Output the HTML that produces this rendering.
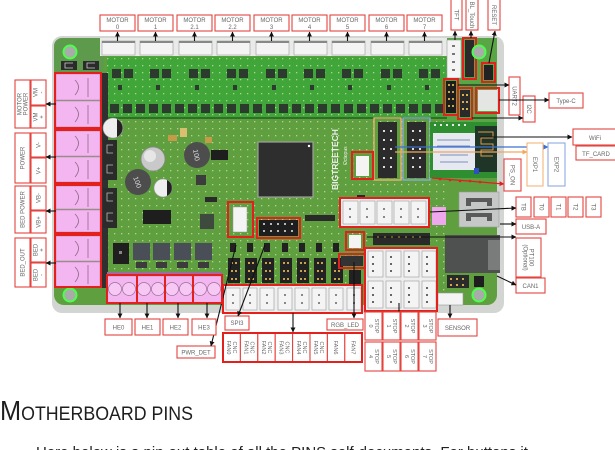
<!DOCTYPE html>
<html><head><meta charset="utf-8"><style>
html,body{margin:0;padding:0;background:#fff;}
svg{display:block;}
.t{font-family:"Liberation Sans",sans-serif;font-size:6px;fill:#666;}
.lb{fill:#fff;stroke:#e4433f;stroke-width:1.1;}
.rb{fill:none;stroke:#e3201c;stroke-width:2;}
.ln{stroke:#111;stroke-width:1.1;fill:none;}
.cn{fill:#f4f4f4;stroke:#9a9a9a;stroke-width:.6;}
.pk{fill:#f4b6f0;stroke:#b489b0;stroke-width:.6;}
</style></head><body>
<svg width="615" height="450" viewBox="0 0 615 450" xmlns="http://www.w3.org/2000/svg">
<defs>
<marker id="k" viewBox="0 0 6 6" refX="5.5" refY="3" markerWidth="5" markerHeight="5" orient="auto" markerUnits="userSpaceOnUse"><path d="M0,0L6,3L0,6z" fill="#111"/></marker>
<marker id="kb" viewBox="0 0 6 6" refX="5.5" refY="3" markerWidth="5" markerHeight="5" orient="auto" markerUnits="userSpaceOnUse"><path d="M0,0L6,3L0,6z" fill="#3d6fcf"/></marker>
<marker id="ko" viewBox="0 0 6 6" refX="5.5" refY="3" markerWidth="5" markerHeight="5" orient="auto" markerUnits="userSpaceOnUse"><path d="M0,0L6,3L0,6z" fill="#f0a860"/></marker>
<marker id="kr" viewBox="0 0 6 6" refX="5.5" refY="3" markerWidth="5" markerHeight="5" orient="auto" markerUnits="userSpaceOnUse"><path d="M0,0L6,3L0,6z" fill="#e02020"/></marker>
<pattern id="dots" width="7" height="7" patternUnits="userSpaceOnUse"><rect x="2" y="2" width="1.3" height="1.3" fill="#d9e9b0" opacity=".7"/></pattern>
</defs>

<!-- backdrop and board -->
<rect x="52" y="36" width="452" height="277" rx="10" fill="#d2d5d2"/>
<rect x="54" y="38" width="443" height="267" rx="10" fill="#5f9f3f"/>
<rect x="54" y="38" width="50" height="36" rx="8" fill="#5d9a4c"/>
<rect x="100" y="38" width="347" height="18" fill="#e9ebe9"/>
<!-- driver area -->
<rect x="107" y="57" width="340" height="61" fill="#40a63a"/>
<rect x="107" y="57" width="340" height="61" fill="url(#dots)"/>
<rect x="107" y="117" width="340" height="2" fill="#2f6f28"/>
<g fill="#2d3a2e">
<rect x="112" y="69" width="9" height="9"/><rect x="124" y="69" width="9" height="9"/>
<rect x="150" y="69" width="9" height="9"/><rect x="162" y="69" width="9" height="9"/>
<rect x="189" y="69" width="9" height="9"/><rect x="201" y="69" width="9" height="9"/>
<rect x="227" y="69" width="9" height="9"/><rect x="239" y="69" width="9" height="9"/>
<rect x="266" y="69" width="9" height="9"/><rect x="278" y="69" width="9" height="9"/>
<rect x="304" y="69" width="9" height="9"/><rect x="316" y="69" width="9" height="9"/>
<rect x="342" y="69" width="9" height="9"/><rect x="354" y="69" width="9" height="9"/>
<rect x="381" y="69" width="9" height="9"/><rect x="393" y="69" width="9" height="9"/>
<rect x="419" y="69" width="9" height="9"/><rect x="431" y="69" width="9" height="9"/>
<rect x="110" y="104" width="9" height="9"/><rect x="123" y="104" width="9" height="9"/><rect x="136" y="104" width="9" height="9"/><rect x="149" y="104" width="9" height="9"/><rect x="162" y="104" width="9" height="9"/><rect x="175" y="104" width="9" height="9"/><rect x="188" y="104" width="9" height="9"/><rect x="201" y="104" width="9" height="9"/><rect x="214" y="104" width="9" height="9"/><rect x="227" y="104" width="9" height="9"/><rect x="240" y="104" width="9" height="9"/><rect x="253" y="104" width="9" height="9"/><rect x="266" y="104" width="9" height="9"/><rect x="279" y="104" width="9" height="9"/><rect x="292" y="104" width="9" height="9"/><rect x="305" y="104" width="9" height="9"/><rect x="318" y="104" width="9" height="9"/><rect x="331" y="104" width="9" height="9"/><rect x="344" y="104" width="9" height="9"/><rect x="357" y="104" width="9" height="9"/><rect x="370" y="104" width="9" height="9"/><rect x="383" y="104" width="9" height="9"/><rect x="396" y="104" width="9" height="9"/><rect x="409" y="104" width="9" height="9"/><rect x="422" y="104" width="9" height="9"/><rect x="435" y="104" width="9" height="9"/>
<rect x="118" y="85" width="4" height="5"/><rect x="156" y="85" width="4" height="5"/><rect x="195" y="85" width="4" height="5"/><rect x="233" y="85" width="4" height="5"/><rect x="272" y="85" width="4" height="5"/><rect x="310" y="85" width="4" height="5"/><rect x="348" y="85" width="4" height="5"/><rect x="387" y="85" width="4" height="5"/><rect x="425" y="85" width="4" height="5"/>
</g>
<rect x="107" y="119" width="340" height="185" fill="url(#dots)"/>

<!-- motor connectors -->
<g>
<rect class="cn" x="102" y="41" width="33" height="14"/><rect class="cn" x="140" y="41" width="33" height="14"/><rect class="cn" x="179" y="41" width="33" height="14"/><rect class="cn" x="217" y="41" width="33" height="14"/><rect class="cn" x="256" y="41" width="33" height="14"/><rect class="cn" x="294" y="41" width="33" height="14"/><rect class="cn" x="332" y="41" width="33" height="14"/><rect class="cn" x="371" y="41" width="33" height="14"/><rect class="cn" x="409" y="41" width="33" height="14"/>
</g>
<g fill="#888">
<rect x="102" y="41" width="33" height="2"/><rect x="140" y="41" width="33" height="2"/><rect x="179" y="41" width="33" height="2"/><rect x="217" y="41" width="33" height="2"/><rect x="256" y="41" width="33" height="2"/><rect x="294" y="41" width="33" height="2"/><rect x="332" y="41" width="33" height="2"/><rect x="371" y="41" width="33" height="2"/><rect x="409" y="41" width="33" height="2"/>
</g>

<!-- motor labels -->
<g>
<rect class="lb" x="100" y="15" width="35" height="16"/><rect class="lb" x="138" y="15" width="35" height="16"/><rect class="lb" x="177" y="15" width="35" height="16"/><rect class="lb" x="215" y="15" width="35" height="16"/><rect class="lb" x="254" y="15" width="35" height="16"/><rect class="lb" x="292" y="15" width="35" height="16"/><rect class="lb" x="330" y="15" width="35" height="16"/><rect class="lb" x="369" y="15" width="35" height="16"/><rect class="lb" x="407" y="15" width="35" height="16"/>
</g>
<g class="t" text-anchor="middle">
<text x="117.5" y="22">MOTOR</text><text x="117.5" y="29">0</text>
<text x="155.5" y="22">MOTOR</text><text x="155.5" y="29">1</text>
<text x="194.5" y="22">MOTOR</text><text x="194.5" y="29">2.1</text>
<text x="232.5" y="22">MOTOR</text><text x="232.5" y="29">2.2</text>
<text x="271.5" y="22">MOTOR</text><text x="271.5" y="29">3</text>
<text x="309.5" y="22">MOTOR</text><text x="309.5" y="29">4</text>
<text x="347.5" y="22">MOTOR</text><text x="347.5" y="29">5</text>
<text x="386.5" y="22">MOTOR</text><text x="386.5" y="29">6</text>
<text x="424.5" y="22">MOTOR</text><text x="424.5" y="29">7</text>
</g>
<g class="ln" marker-end="url(#k)">
<line x1="117.5" y1="41" x2="117.5" y2="32"/><line x1="155.5" y1="41" x2="155.5" y2="32"/><line x1="194.5" y1="41" x2="194.5" y2="32"/><line x1="232.5" y1="41" x2="232.5" y2="32"/><line x1="271.5" y1="41" x2="271.5" y2="32"/><line x1="309.5" y1="41" x2="309.5" y2="32"/><line x1="347.5" y1="41" x2="347.5" y2="32"/><line x1="386.5" y1="41" x2="386.5" y2="32"/><line x1="424.5" y1="41" x2="424.5" y2="32"/>
</g>

<!-- top right area -->
<rect x="447" y="38" width="50" height="90" fill="#5aa545"/>
<rect class="cn" x="447" y="40" width="14" height="38"/>
<g fill="#777"><rect x="452" y="45" width="3" height="2"/><rect x="452" y="53" width="3" height="2"/><rect x="452" y="61" width="3" height="2"/><rect x="452" y="69" width="3" height="2"/></g>
<rect x="465" y="40" width="9" height="37" fill="#2a2a2a"/>
<rect class="rb" x="463" y="38" width="13" height="41"/>
<circle cx="479" cy="52" r="6.5" fill="#aaa" stroke="#4dff4d" stroke-width="2"/>
<rect x="484" y="65" width="9" height="15" fill="#222"/>
<rect class="rb" x="482" y="63" width="13" height="19"/>
<rect x="446" y="81" width="10" height="32" fill="#1d1d1d"/>
<g fill="#c9a54a"><rect x="448" y="84" width="2" height="2"/><rect x="452" y="84" width="2" height="2"/><rect x="448" y="91" width="2" height="2"/><rect x="452" y="91" width="2" height="2"/><rect x="448" y="98" width="2" height="2"/><rect x="452" y="98" width="2" height="2"/><rect x="448" y="105" width="2" height="2"/><rect x="452" y="105" width="2" height="2"/></g>
<rect class="rb" x="444" y="79" width="14" height="36"/>
<rect x="460" y="90" width="10" height="27" fill="#2a2a2a"/>
<g fill="#d8b050"><rect x="462" y="94" width="2" height="2"/><rect x="466" y="94" width="2" height="2"/><rect x="462" y="101" width="2" height="2"/><rect x="466" y="101" width="2" height="2"/><rect x="462" y="108" width="2" height="2"/><rect x="466" y="108" width="2" height="2"/></g>
<rect class="rb" x="458" y="88" width="14" height="31"/>
<rect x="478" y="90" width="19" height="21" fill="#e4e6e4"/>
<rect class="rb" x="476" y="88" width="23" height="25"/>

<rect class="lb" x="451" y="-2" width="11" height="32"/>
<text class="t" transform="translate(456.5,15) rotate(90)" text-anchor="middle" dy="2">TFT</text>
<rect class="lb" x="466" y="-2" width="12" height="32"/>
<text class="t" transform="translate(472,15) rotate(90)" text-anchor="middle" dy="2">BL_Touch</text>
<rect class="lb" x="488" y="-2" width="12" height="32"/>
<text class="t" transform="translate(494,15) rotate(90)" text-anchor="middle" dy="2">RESET</text>
<g class="ln" marker-end="url(#k)">
<line x1="455" y1="40" x2="455" y2="31"/><line x1="471" y1="38" x2="471" y2="31"/><line x1="489" y1="63" x2="495" y2="31"/>
</g>

<rect class="lb" x="509" y="77" width="11" height="38"/>
<text class="t" transform="translate(514.5,96) rotate(90)" text-anchor="middle" dy="2">UART2</text>
<rect class="lb" x="523" y="96" width="12" height="26"/>
<text class="t" transform="translate(529,109) rotate(90)" text-anchor="middle" dy="2">I2C</text>
<rect class="lb" x="549" y="93" width="34" height="15"/>
<text class="t" x="566" y="103" text-anchor="middle">Type-C</text>
<g class="ln" marker-end="url(#k)">
<line x1="458" y1="85" x2="509" y2="85"/><line x1="472" y1="118" x2="523" y2="118"/><line x1="499" y1="100" x2="549" y2="100"/>
</g>

<!-- EXP & WiFi -->
<rect x="374" y="118" width="27" height="62" fill="none" stroke="#f1b47a" stroke-width="1.3"/>
<rect x="403" y="118" width="27" height="62" fill="none" stroke="#8eaae0" stroke-width="1.3"/>
<rect x="378" y="122" width="19" height="56" fill="#2b2b2b"/>
<rect x="407" y="122" width="19" height="56" fill="#2b2b2b"/>
<g fill="#ddd">
<rect x="383" y="130" width="2" height="2"/><rect x="390" y="130" width="2" height="2"/><rect x="383" y="139" width="2" height="2"/><rect x="390" y="139" width="2" height="2"/><rect x="383" y="148" width="2" height="2"/><rect x="390" y="148" width="2" height="2"/><rect x="383" y="157" width="2" height="2"/><rect x="390" y="157" width="2" height="2"/><rect x="383" y="166" width="2" height="2"/><rect x="390" y="166" width="2" height="2"/>
<rect x="412" y="130" width="2" height="2"/><rect x="419" y="130" width="2" height="2"/><rect x="412" y="139" width="2" height="2"/><rect x="419" y="139" width="2" height="2"/><rect x="412" y="148" width="2" height="2"/><rect x="419" y="148" width="2" height="2"/><rect x="412" y="157" width="2" height="2"/><rect x="419" y="157" width="2" height="2"/><rect x="412" y="166" width="2" height="2"/><rect x="419" y="166" width="2" height="2"/>
</g>
<rect x="430" y="122" width="67" height="56" fill="#2f8f30"/>
<rect x="433" y="133" width="42" height="37" fill="#e6eaf0"/>
<g stroke="#5a6fb0" stroke-width=".7"><line x1="437" y1="140" x2="470" y2="140"/><line x1="437" y1="146" x2="470" y2="146"/><line x1="440" y1="155" x2="468" y2="155"/><line x1="440" y1="162" x2="468" y2="162"/></g>
<rect x="475" y="126" width="22" height="46" fill="#1f3527"/>
<path d="M478,132h15v6h-12v6h12v6h-12v6h12" fill="none" stroke="#d89a50" stroke-width="1"/>
<rect x="474" y="168" width="5" height="6" fill="#2d50c0"/>
<g fill="#e8e8e8"><rect x="434" y="124" width="2" height="2"/><rect x="440" y="124" width="2" height="2"/><rect x="446" y="124" width="2" height="2"/><rect x="452" y="124" width="2" height="2"/><rect x="458" y="124" width="2" height="2"/><rect x="464" y="124" width="2" height="2"/></g>

<line x1="480" y1="137" x2="572" y2="137" class="ln" marker-end="url(#k)"/>
<line x1="395" y1="147" x2="548" y2="147" stroke="#3d6fcf" stroke-width="1.2" marker-end="url(#kb)"/>
<line x1="395" y1="152" x2="527" y2="152" stroke="#f0a860" stroke-width="1.2" marker-end="url(#ko)"/>
<line x1="432" y1="178" x2="504" y2="184" stroke="#e02020" stroke-width="1.2" marker-end="url(#kr)"/>
<g fill="#e02020"><circle cx="440" cy="179" r="1.3"/><circle cx="450" cy="180" r="1.3"/><circle cx="460" cy="181" r="1.3"/><circle cx="470" cy="181" r="1.3"/><circle cx="480" cy="182" r="1.3"/></g>

<rect class="lb" x="573" y="129" width="44" height="16"/>
<text class="t" x="595" y="140" text-anchor="middle">WiFi</text>
<rect class="lb" x="576" y="146" width="41" height="14"/>
<text class="t" x="596" y="156" text-anchor="middle">TF_CARD</text>
<rect x="527" y="143" width="16" height="43" fill="#fff" stroke="#f1b47a" stroke-width="1.1"/>
<text class="t" transform="translate(535,164.5) rotate(90)" text-anchor="middle" dy="2">EXP1</text>
<rect x="548" y="143" width="17" height="43" fill="#fff" stroke="#8eaae0" stroke-width="1.1"/>
<text class="t" transform="translate(556.5,164.5) rotate(90)" text-anchor="middle" dy="2">EXP2</text>
<rect class="lb" x="504" y="159" width="17" height="32"/>
<text class="t" transform="translate(512.5,175) rotate(90)" text-anchor="middle" dy="2">PS_ON</text>

<!-- left top holes / shapes -->
<circle cx="70" cy="52" r="6.5" fill="#aaa" stroke="#4dff4d" stroke-width="2"/>
<circle cx="70" cy="295" r="6.5" fill="#aaa" stroke="#4dff4d" stroke-width="2"/>
<circle cx="479" cy="295" r="6.5" fill="#aaa" stroke="#4dff4d" stroke-width="2"/>
<rect x="61" y="61" width="16" height="9" fill="#2b2b2b"/><rect x="83" y="61" width="16" height="9" fill="#2b2b2b"/>
<path d="M73,63h-8v5h8M95,63h-8v5h8" fill="none" stroke="#ccc" stroke-width=".8"/>

<!-- left terminals -->
<rect x="100" y="73" width="8" height="215" fill="#303030"/>
<g>
<rect class="pk" x="56" y="74" width="44" height="26"/><rect class="pk" x="56" y="101" width="44" height="26"/>
<rect class="pk" x="56" y="131" width="44" height="25"/><rect class="pk" x="56" y="157" width="44" height="25"/>
<rect class="pk" x="56" y="186" width="44" height="23"/><rect class="pk" x="56" y="210" width="44" height="22"/>
<rect class="pk" x="56" y="236" width="44" height="25"/><rect class="pk" x="56" y="262" width="44" height="25"/>
</g>
<g fill="none" stroke="#8a6a88" stroke-width=".8">
<path d="M75,80q7,7 0,15M88,78v19"/><path d="M75,107q7,7 0,15M88,105v19"/>
<path d="M75,136q7,7 0,15M88,134v19"/><path d="M75,162q7,7 0,15M88,160v19"/>
<path d="M75,190q7,7 0,15M88,188v19"/><path d="M75,214q7,7 0,14M88,212v18"/>
<path d="M75,241q7,7 0,15M88,239v19"/><path d="M75,267q7,7 0,15M88,265v19"/>
</g>
<rect class="rb" x="55" y="73" width="46" height="55"/>
<rect class="rb" x="55" y="130" width="46" height="53"/>
<rect class="rb" x="55" y="185" width="46" height="48"/>
<rect class="rb" x="55" y="235" width="46" height="52"/>

<!-- left labels -->
<rect class="lb" x="15" y="80" width="15" height="48"/>
<text class="t" transform="translate(22.5,104) rotate(-90)" text-anchor="middle"><tspan x="0" y="-1">MOTOR</tspan><tspan x="0" y="5">POWER</tspan></text>
<rect class="lb" x="31" y="80" width="15" height="25"/>
<text class="t" transform="translate(38.5,92.5) rotate(-90)" text-anchor="middle"><tspan x="0" y="-1">VM</tspan><tspan x="0" y="5">-</tspan></text>
<rect class="lb" x="31" y="106" width="15" height="22"/>
<text class="t" transform="translate(38.5,117) rotate(-90)" text-anchor="middle"><tspan x="0" y="-1">VM</tspan><tspan x="0" y="5">+</tspan></text>

<rect class="lb" x="15" y="133" width="15" height="50"/>
<text class="t" transform="translate(22.5,158) rotate(-90)" text-anchor="middle" dy="2">POWER</text>
<rect class="lb" x="31" y="133" width="15" height="24"/>
<text class="t" transform="translate(38.5,145) rotate(-90)" text-anchor="middle" dy="2">V-</text>
<rect class="lb" x="31" y="158" width="15" height="25"/>
<text class="t" transform="translate(38.5,170.5) rotate(-90)" text-anchor="middle" dy="2">V+</text>

<rect class="lb" x="15" y="186" width="15" height="47"/>
<text class="t" transform="translate(22.5,209.5) rotate(-90)" text-anchor="middle" dy="2">BED POWER</text>
<rect class="lb" x="31" y="186" width="15" height="24"/>
<text class="t" transform="translate(38.5,198) rotate(-90)" text-anchor="middle" dy="2">VB-</text>
<rect class="lb" x="31" y="211" width="15" height="22"/>
<text class="t" transform="translate(38.5,222) rotate(-90)" text-anchor="middle" dy="2">VB+</text>

<rect class="lb" x="15" y="238" width="15" height="49"/>
<text class="t" transform="translate(22.5,262.5) rotate(-90)" text-anchor="middle" dy="2">BED_OUT</text>
<rect class="lb" x="31" y="238" width="15" height="24"/>
<text class="t" transform="translate(38.5,250) rotate(-90)" text-anchor="middle"><tspan x="0" y="-1">BED</tspan><tspan x="0" y="5">+</tspan></text>
<rect class="lb" x="31" y="263" width="15" height="24"/>
<text class="t" transform="translate(38.5,275) rotate(-90)" text-anchor="middle"><tspan x="0" y="-1">BED</tspan><tspan x="0" y="5">-</tspan></text>
<g class="ln" marker-end="url(#k)">
<line x1="56" y1="104" x2="46" y2="104"/><line x1="56" y1="157" x2="46" y2="157"/><line x1="56" y1="211" x2="46" y2="211"/><line x1="56" y1="263" x2="46" y2="263"/>
</g>

<!-- black side connectors -->
<rect x="103" y="140" width="14" height="40" fill="#2b2b2b"/>
<rect x="103" y="188" width="14" height="40" fill="#2b2b2b"/>
<path d="M113,145h-6v8h6M113,165h-6v8h6M113,193h-6v8h6M113,213h-6v8h6" fill="none" stroke="#bbb" stroke-width=".8"/>

<!-- components -->
<circle cx="113" cy="128" r="10" fill="#eee" stroke="#999" stroke-width=".6"/>
<path d="M117,119a10,10 0 0 1 0,18z" fill="#222"/>
<circle cx="163" cy="188" r="9" fill="#eee" stroke="#999" stroke-width=".6"/>
<path d="M167,180a9,9 0 0 1 0,16z" fill="#222"/>
<circle cx="153" cy="159" r="12" fill="#c9c9c9" stroke="#888" stroke-width=".8"/>
<circle cx="150" cy="156" r="6" fill="#e6e6e6"/>
<circle cx="138" cy="182" r="13" fill="#4d4d4d"/>
<text x="138" y="185" font-family="Liberation Sans,sans-serif" font-size="7" fill="#ddd" text-anchor="middle" transform="rotate(70,138,182)">100</text>
<circle cx="197" cy="155" r="13" fill="#4d4d4d"/>
<text x="197" y="158" font-family="Liberation Sans,sans-serif" font-size="7" fill="#ddd" text-anchor="middle" transform="rotate(80,197,155)">100</text>
<rect x="143" y="210" width="28" height="14" fill="#1e1e1e"/>
<rect x="211" y="150" width="17" height="10" fill="#1e1e1e"/>
<rect x="196" y="175" width="10" height="10" fill="#3c3c3c"/>
<rect x="200" y="214" width="14" height="15" fill="#3e4a3e"/>
<rect x="180" y="128" width="7" height="9" fill="#d8c070"/>
<rect x="168" y="135" width="9" height="6" fill="#c59a48"/>
<rect x="205" y="137" width="7" height="6" fill="#c59a48"/>
<rect x="205" y="197" width="12" height="5" fill="#2a2a2a"/>
<rect x="113" y="243" width="16" height="21" fill="#1f1f1f"/>
<rect x="119" y="251" width="3" height="3" fill="#888"/>
<rect x="133" y="243" width="17" height="17" fill="#4a4f57"/>
<rect x="153" y="243" width="17" height="17" fill="#4a4f57"/>
<rect x="174" y="243" width="17" height="17" fill="#4a4f57"/>
<rect x="195" y="243" width="17" height="17" fill="#4a4f57"/>
<g fill="#3c3c3c"><rect x="136" y="262" width="11" height="6"/><rect x="156" y="262" width="11" height="6"/><rect x="177" y="262" width="11" height="6"/><rect x="198" y="262" width="11" height="6"/></g>

<!-- MCU -->
<rect x="258" y="142" width="55" height="55" fill="#2e2e2e" stroke="#a0a0a0" stroke-width="1.2"/>
<circle cx="309" cy="146" r="1.2" fill="#fff"/>
<text transform="translate(338,190) rotate(-90)" font-family="Liberation Sans,sans-serif" font-size="8.5" font-weight="bold" fill="#f0f0f0">BIGTREETECH</text>
<text transform="translate(347,165) rotate(-90)" font-family="Liberation Sans,sans-serif" font-size="5" fill="#e8e8e8">Octopus</text>
<rect x="305" y="215" width="30" height="6" fill="#2a2a2a"/>
<rect x="357" y="195" width="8" height="14" fill="#2a2a2a"/>

<!-- PWR_DET & SPI3 -->
<rect x="233" y="207" width="14" height="25" fill="#f4f4f4" stroke="#999" stroke-width=".5"/>
<rect class="rb" x="228" y="202" width="25" height="35"/>
<rect x="259" y="220" width="39" height="16" fill="#1e1e1e"/>
<g fill="#b8b8b8"><rect x="263" y="223" width="2" height="2"/><rect x="270" y="223" width="2" height="2"/><rect x="277" y="223" width="2" height="2"/><rect x="284" y="223" width="2" height="2"/><rect x="291" y="223" width="2" height="2"/><rect x="263" y="230" width="2" height="2"/><rect x="270" y="230" width="2" height="2"/><rect x="277" y="230" width="2" height="2"/><rect x="284" y="230" width="2" height="2"/><rect x="291" y="230" width="2" height="2"/></g>
<rect class="rb" x="257" y="218" width="43" height="20"/>

<!-- small red box near MCU -->
<rect x="356" y="156" width="13" height="20" fill="#f4f4f4"/>
<rect class="rb" x="352" y="152" width="21" height="27"/>

<!-- fan area headers -->
<g fill="#222">
<rect x="230" y="243" width="6" height="9"/><rect x="247" y="243" width="6" height="9"/><rect x="264" y="243" width="6" height="9"/><rect x="282" y="243" width="6" height="9"/><rect x="299" y="243" width="6" height="9"/><rect x="316" y="243" width="6" height="9"/><rect x="333" y="243" width="6" height="9"/>
<rect x="228" y="258" width="12" height="25"/><rect x="245" y="258" width="12" height="25"/><rect x="262" y="258" width="12" height="25"/><rect x="280" y="258" width="12" height="25"/><rect x="297" y="258" width="12" height="25"/><rect x="314" y="258" width="12" height="25"/><rect x="331" y="258" width="12" height="25"/><rect x="349" y="270" width="12" height="14"/>
</g>
<g fill="#c9a54a">
<rect x="231" y="262" width="2" height="2"/><rect x="235" y="262" width="2" height="2"/><rect x="231" y="270" width="2" height="2"/><rect x="235" y="270" width="2" height="2"/><rect x="231" y="278" width="2" height="2"/><rect x="235" y="278" width="2" height="2"/>
<rect x="248" y="262" width="2" height="2"/><rect x="252" y="262" width="2" height="2"/><rect x="248" y="270" width="2" height="2"/><rect x="252" y="270" width="2" height="2"/><rect x="248" y="278" width="2" height="2"/><rect x="252" y="278" width="2" height="2"/>
<rect x="265" y="262" width="2" height="2"/><rect x="269" y="262" width="2" height="2"/><rect x="265" y="270" width="2" height="2"/><rect x="269" y="270" width="2" height="2"/><rect x="265" y="278" width="2" height="2"/><rect x="269" y="278" width="2" height="2"/>
<rect x="283" y="262" width="2" height="2"/><rect x="287" y="262" width="2" height="2"/><rect x="283" y="270" width="2" height="2"/><rect x="287" y="270" width="2" height="2"/><rect x="283" y="278" width="2" height="2"/><rect x="287" y="278" width="2" height="2"/>
<rect x="300" y="262" width="2" height="2"/><rect x="304" y="262" width="2" height="2"/><rect x="300" y="270" width="2" height="2"/><rect x="304" y="270" width="2" height="2"/><rect x="300" y="278" width="2" height="2"/><rect x="304" y="278" width="2" height="2"/>
<rect x="317" y="262" width="2" height="2"/><rect x="321" y="262" width="2" height="2"/><rect x="317" y="270" width="2" height="2"/><rect x="321" y="270" width="2" height="2"/><rect x="317" y="278" width="2" height="2"/><rect x="321" y="278" width="2" height="2"/>
<rect x="334" y="262" width="2" height="2"/><rect x="338" y="262" width="2" height="2"/><rect x="334" y="270" width="2" height="2"/><rect x="338" y="270" width="2" height="2"/><rect x="334" y="278" width="2" height="2"/><rect x="338" y="278" width="2" height="2"/>
</g>

<!-- fan connectors -->
<rect x="223" y="285" width="139" height="28" fill="#eee"/>
<g>
<rect class="cn" x="226" y="288" width="14" height="22"/><rect class="cn" x="243" y="288" width="14" height="22"/><rect class="cn" x="260" y="288" width="14" height="22"/><rect class="cn" x="278" y="288" width="14" height="22"/><rect class="cn" x="295" y="288" width="14" height="22"/><rect class="cn" x="312" y="288" width="14" height="22"/><rect class="cn" x="329" y="288" width="14" height="22"/><rect class="cn" x="347" y="288" width="14" height="22"/>
</g>
<g fill="#888"><rect x="232" y="294" width="2" height="2"/><rect x="232" y="302" width="2" height="2"/><rect x="249" y="294" width="2" height="2"/><rect x="249" y="302" width="2" height="2"/><rect x="266" y="294" width="2" height="2"/><rect x="266" y="302" width="2" height="2"/><rect x="284" y="294" width="2" height="2"/><rect x="284" y="302" width="2" height="2"/><rect x="301" y="294" width="2" height="2"/><rect x="301" y="302" width="2" height="2"/><rect x="318" y="294" width="2" height="2"/><rect x="318" y="302" width="2" height="2"/><rect x="335" y="294" width="2" height="2"/><rect x="335" y="302" width="2" height="2"/><rect x="353" y="294" width="2" height="2"/><rect x="353" y="302" width="2" height="2"/></g>
<rect class="rb" x="223" y="285" width="139" height="28"/>

<!-- fan labels -->
<g>
<rect class="lb" x="223" y="333" width="17.4" height="29"/><rect class="lb" x="240.4" y="333" width="17.4" height="29"/><rect class="lb" x="257.8" y="333" width="17.4" height="29"/><rect class="lb" x="275.2" y="333" width="17.4" height="29"/><rect class="lb" x="292.6" y="333" width="17.4" height="29"/><rect class="lb" x="310" y="333" width="17.4" height="29"/><rect class="lb" x="327.4" y="333" width="17.4" height="29"/><rect class="lb" x="344.8" y="333" width="17.4" height="29"/>
</g>
<rect class="rb" x="223" y="333" width="139" height="29"/>
<g class="t" text-anchor="middle" style="font-size:5.5px">
<text transform="translate(231.7,347.5) rotate(90)"><tspan x="0" y="-1.5">CNC</tspan><tspan x="0" y="4.5">FAN0</tspan></text>
<text transform="translate(249.1,347.5) rotate(90)"><tspan x="0" y="-1.5">CNC</tspan><tspan x="0" y="4.5">FAN1</tspan></text>
<text transform="translate(266.5,347.5) rotate(90)"><tspan x="0" y="-1.5">CNC</tspan><tspan x="0" y="4.5">FAN2</tspan></text>
<text transform="translate(283.9,347.5) rotate(90)"><tspan x="0" y="-1.5">CNC</tspan><tspan x="0" y="4.5">FAN3</tspan></text>
<text transform="translate(301.3,347.5) rotate(90)"><tspan x="0" y="-1.5">CNC</tspan><tspan x="0" y="4.5">FAN4</tspan></text>
<text transform="translate(318.7,347.5) rotate(90)"><tspan x="0" y="-1.5">CNC</tspan><tspan x="0" y="4.5">FAN5</tspan></text>
<text transform="translate(336.1,347.5) rotate(90)" dy="2">FAN6</text>
<text transform="translate(353.5,347.5) rotate(90)" dy="2">FAN7</text>
</g>
<line class="ln" x1="293" y1="313" x2="293" y2="332" marker-end="url(#k)"/>

<rect class="lb" x="225" y="316" width="24" height="14"/>
<text class="t" x="237" y="325" text-anchor="middle">SPI3</text>
<rect class="lb" x="177" y="346" width="38" height="12"/>
<text class="t" x="196" y="354.5" text-anchor="middle">PWR_DET</text>
<g class="ln" marker-end="url(#k)">
<line x1="265" y1="245" x2="238" y2="316"/>
<line x1="236" y1="245" x2="211" y2="346"/>
</g>

<!-- heaters -->
<rect x="107" y="272" width="115" height="5" fill="#a06aa0"/>
<rect class="pk" x="107" y="276" width="115" height="27"/>
<g fill="#f6c8f3" stroke="#9a7098" stroke-width=".7">
<circle cx="115" cy="289" r="6.5"/><circle cx="129" cy="289" r="6.5"/>
<circle cx="144" cy="289" r="6.5"/><circle cx="158" cy="289" r="6.5"/>
<circle cx="172" cy="289" r="6.5"/><circle cx="186" cy="289" r="6.5"/>
<circle cx="200" cy="289" r="6.5"/><circle cx="214" cy="289" r="6.5"/>
</g>
<rect class="rb" x="107" y="275" width="30" height="28"/>
<rect class="rb" x="137" y="275" width="28" height="28"/>
<rect class="rb" x="165" y="275" width="28" height="28"/>
<rect class="rb" x="193" y="275" width="29" height="28"/>
<rect class="lb" x="105" y="319" width="27" height="16"/>
<text class="t" x="118.5" y="329.5" text-anchor="middle">HE0</text>
<rect class="lb" x="135" y="319" width="25" height="16"/>
<text class="t" x="147.5" y="329.5" text-anchor="middle">HE1</text>
<rect class="lb" x="163" y="319" width="25" height="16"/>
<text class="t" x="175.5" y="329.5" text-anchor="middle">HE2</text>
<rect class="lb" x="192" y="319" width="24" height="16"/>
<text class="t" x="204" y="329.5" text-anchor="middle">HE3</text>
<g class="ln" marker-end="url(#k)">
<line x1="120" y1="303" x2="120" y2="318"/><line x1="147" y1="303" x2="147" y2="318"/><line x1="178" y1="303" x2="178" y2="318"/><line x1="207" y1="303" x2="207" y2="318"/>
</g>

<!-- thermistors -->
<rect x="340" y="198" width="89" height="29" fill="#eee"/>
<g>
<rect class="cn" x="343" y="201" width="15" height="23"/><rect class="cn" x="360" y="201" width="15" height="23"/><rect class="cn" x="377" y="201" width="15" height="23"/><rect class="cn" x="394" y="201" width="15" height="23"/><rect class="cn" x="411" y="201" width="15" height="23"/>
</g>
<g fill="#888"><rect x="349" y="208" width="2" height="2"/><rect x="349" y="216" width="2" height="2"/><rect x="366" y="208" width="2" height="2"/><rect x="366" y="216" width="2" height="2"/><rect x="383" y="208" width="2" height="2"/><rect x="383" y="216" width="2" height="2"/><rect x="400" y="208" width="2" height="2"/><rect x="400" y="216" width="2" height="2"/><rect x="417" y="208" width="2" height="2"/><rect x="417" y="216" width="2" height="2"/></g>
<rect class="rb" x="340" y="198" width="89" height="29"/>
<rect x="432" y="207" width="14" height="18" fill="#f0a8ec"/>

<!-- USB-A & CAN -->
<rect x="459" y="192" width="40" height="35" fill="#c6c8c8" stroke="#999" stroke-width=".6"/>
<path d="M466,198h26v8h-5v-4h-16v4h-5zM466,213h26v8h-5v-4h-16v4h-5z" fill="#5a5a5a"/>
<rect x="373" y="233" width="57" height="12" fill="#2a2a2a"/>
<g fill="#c9a54a"><rect x="377" y="236" width="2" height="2"/><rect x="384" y="236" width="2" height="2"/><rect x="391" y="236" width="2" height="2"/><rect x="398" y="236" width="2" height="2"/><rect x="405" y="236" width="2" height="2"/><rect x="412" y="236" width="2" height="2"/><rect x="419" y="236" width="2" height="2"/></g>
<rect x="445" y="235" width="55" height="38" fill="#4f5050"/>
<rect x="488" y="240" width="12" height="30" fill="#7a7c7c"/>
<rect x="447" y="275" width="22" height="13" fill="#2a2a2a"/>
<g fill="#d0a850"><rect x="450" y="278" width="2" height="2"/><rect x="456" y="278" width="2" height="2"/><rect x="462" y="278" width="2" height="2"/><rect x="450" y="284" width="2" height="2"/><rect x="456" y="284" width="2" height="2"/><rect x="462" y="284" width="2" height="2"/></g>
<rect x="474" y="276" width="10" height="11" fill="#1e1e1e"/>
<rect class="cn" x="438" y="293" width="25" height="12"/>

<!-- RGB -->
<rect x="349" y="235" width="12" height="13" fill="#f4f4f4"/>
<rect class="rb" x="346" y="232" width="18" height="18"/>
<rect x="341" y="256" width="22" height="10" fill="#333"/>
<rect class="rb" x="339" y="254" width="26" height="14"/>
<rect class="lb" x="327" y="319" width="36" height="11"/>
<text class="t" x="345" y="327" text-anchor="middle">RGB_LED</text>
<line class="ln" x1="354" y1="262" x2="354" y2="318" marker-end="url(#k)"/>

<!-- STOP connectors -->
<rect x="365" y="248" width="72" height="63" fill="#eee"/>
<g>
<rect class="cn" x="368" y="251" width="15" height="26"/><rect class="cn" x="386" y="251" width="15" height="26"/><rect class="cn" x="404" y="251" width="15" height="26"/><rect class="cn" x="422" y="251" width="14" height="26"/>
<rect class="cn" x="368" y="281" width="15" height="27"/><rect class="cn" x="386" y="281" width="15" height="27"/><rect class="cn" x="404" y="281" width="15" height="27"/><rect class="cn" x="422" y="281" width="14" height="27"/>
</g>
<g fill="#666"><rect x="372" y="256" width="2" height="2"/><rect x="372" y="263" width="2" height="2"/><rect x="372" y="270" width="2" height="2"/><rect x="390" y="256" width="2" height="2"/><rect x="390" y="263" width="2" height="2"/><rect x="390" y="270" width="2" height="2"/><rect x="408" y="256" width="2" height="2"/><rect x="408" y="263" width="2" height="2"/><rect x="408" y="270" width="2" height="2"/><rect x="426" y="256" width="2" height="2"/><rect x="426" y="263" width="2" height="2"/><rect x="426" y="270" width="2" height="2"/>
<rect x="372" y="287" width="2" height="2"/><rect x="372" y="294" width="2" height="2"/><rect x="372" y="301" width="2" height="2"/><rect x="390" y="287" width="2" height="2"/><rect x="390" y="294" width="2" height="2"/><rect x="390" y="301" width="2" height="2"/><rect x="408" y="287" width="2" height="2"/><rect x="408" y="294" width="2" height="2"/><rect x="408" y="301" width="2" height="2"/><rect x="426" y="287" width="2" height="2"/><rect x="426" y="294" width="2" height="2"/><rect x="426" y="301" width="2" height="2"/></g>
<rect class="rb" x="365" y="248" width="72" height="63"/>
<line class="ln" x1="399" y1="303" x2="399" y2="318" marker-end="url(#k)"/>

<g>
<rect class="lb" x="365" y="312" width="17" height="28"/><rect class="lb" x="383" y="312" width="17" height="28"/><rect class="lb" x="401" y="312" width="17" height="28"/><rect class="lb" x="419" y="312" width="17" height="28"/>
<rect class="lb" x="365" y="342" width="17" height="29"/><rect class="lb" x="383" y="342" width="17" height="29"/><rect class="lb" x="401" y="342" width="17" height="29"/><rect class="lb" x="419" y="342" width="17" height="29"/>
</g>
<g class="t" text-anchor="middle" style="font-size:5.5px">
<text transform="translate(373.5,326) rotate(90)"><tspan x="0" y="-1.5">STOP</tspan><tspan x="0" y="4.5">0</tspan></text>
<text transform="translate(391.5,326) rotate(90)"><tspan x="0" y="-1.5">STOP</tspan><tspan x="0" y="4.5">1</tspan></text>
<text transform="translate(409.5,326) rotate(90)"><tspan x="0" y="-1.5">STOP</tspan><tspan x="0" y="4.5">2</tspan></text>
<text transform="translate(427.5,326) rotate(90)"><tspan x="0" y="-1.5">STOP</tspan><tspan x="0" y="4.5">3</tspan></text>
<text transform="translate(373.5,356.5) rotate(90)"><tspan x="0" y="-1.5">STOP</tspan><tspan x="0" y="4.5">4</tspan></text>
<text transform="translate(391.5,356.5) rotate(90)"><tspan x="0" y="-1.5">STOP</tspan><tspan x="0" y="4.5">5</tspan></text>
<text transform="translate(409.5,356.5) rotate(90)"><tspan x="0" y="-1.5">STOP</tspan><tspan x="0" y="4.5">6</tspan></text>
<text transform="translate(427.5,356.5) rotate(90)"><tspan x="0" y="-1.5">STOP</tspan><tspan x="0" y="4.5">7</tspan></text>
</g>

<rect class="lb" x="438" y="319" width="39" height="17"/>
<text class="t" x="457.5" y="330" text-anchor="middle">SENSOR</text>
<line class="ln" x1="450" y1="305" x2="450" y2="318" marker-end="url(#k)"/>

<!-- right labels -->
<g>
<rect class="lb" x="516" y="197" width="15" height="20"/><rect class="lb" x="534" y="197" width="15" height="20"/><rect class="lb" x="551" y="197" width="15" height="20"/><rect class="lb" x="568" y="197" width="15" height="20"/><rect class="lb" x="586" y="197" width="15" height="20"/>
</g>
<g class="t" text-anchor="middle">
<text transform="translate(523.5,207) rotate(90)" dy="2">TB</text>
<text transform="translate(541.5,207) rotate(90)" dy="2">T0</text>
<text transform="translate(558.5,207) rotate(90)" dy="2">T1</text>
<text transform="translate(575.5,207) rotate(90)" dy="2">T2</text>
<text transform="translate(593.5,207) rotate(90)" dy="2">T3</text>
</g>
<rect class="lb" x="516" y="219" width="30" height="15"/>
<text class="t" x="531" y="229" text-anchor="middle">USB-A</text>
<rect class="lb" x="516" y="238" width="25" height="39"/>
<text class="t" transform="translate(528.5,257.5) rotate(90)" text-anchor="middle"><tspan x="0" y="-1">PT100</tspan><tspan x="0" y="5">(Optional)</tspan></text>
<rect class="lb" x="516" y="278" width="29" height="15"/>
<text class="t" x="530.5" y="288" text-anchor="middle">CAN1</text>
<g class="ln" marker-end="url(#k)">
<line x1="430" y1="212" x2="516" y2="208"/>
<line x1="500" y1="224" x2="516" y2="224"/>
<line x1="367" y1="237" x2="516" y2="237"/>
<line x1="497" y1="276" x2="516" y2="285"/>
</g>

<!-- heading and text -->
<text x="0" y="420" font-family="Liberation Sans,sans-serif" fill="#1e1e1e" textLength="193" lengthAdjust="spacingAndGlyphs"><tspan font-size="27.5">M</tspan><tspan font-size="19.3">OTHERBOARD PINS</tspan></text>
<text x="36" y="457" font-family="Liberation Sans,sans-serif" font-size="15" fill="#222">Here below is a pin-out table of all the PINS self-documents. For buttons it</text>
</svg>
</body></html>
